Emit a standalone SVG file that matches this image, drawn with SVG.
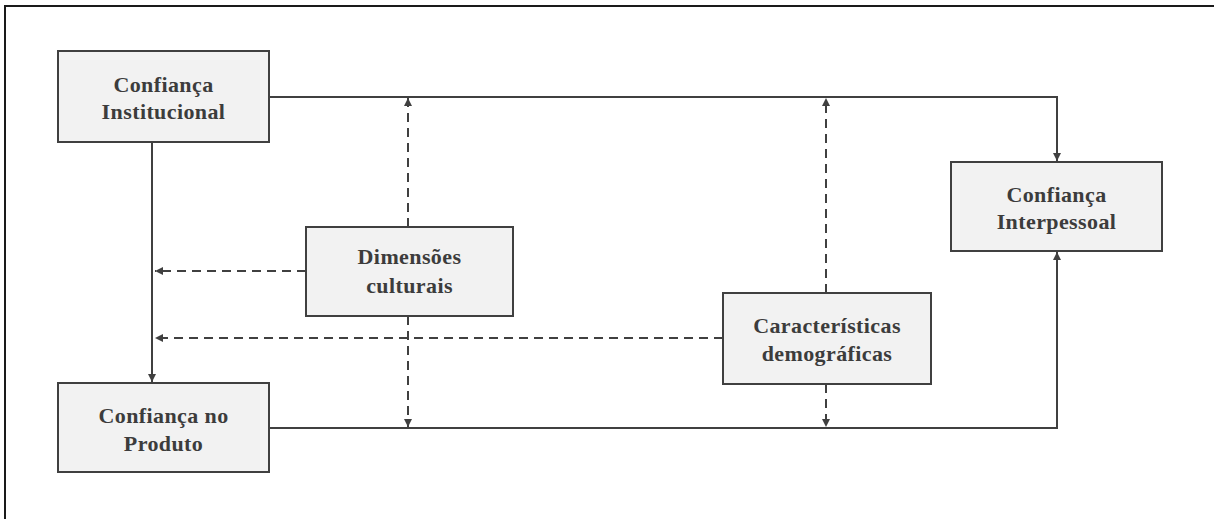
<svg xmlns="http://www.w3.org/2000/svg" width="1214" height="519" viewBox="0 0 1214 519">
  <style>
    .box { fill: #f2f2f2; stroke: #404040; stroke-width: 2; }
    .lbl { font-family: "Liberation Serif", "Times New Roman", serif; font-weight: bold; font-size: 22px; fill: #3c3c3c; text-anchor: middle; letter-spacing: 0.4px; }
    .solid { fill: none; stroke: #404040; stroke-width: 2; }
    .dash { fill: none; stroke: #404040; stroke-width: 2; stroke-dasharray: 9 6; }
  </style>
  <defs>
    <marker id="arrow" viewBox="0 0 10 10" refX="10" refY="5" markerWidth="8" markerHeight="8" markerUnits="userSpaceOnUse" orient="auto">
      <path d="M0,0 L10,5 L0,10 Z" fill="#404040"/>
    </marker>
  </defs>

  <rect width="1214" height="519" fill="#ffffff"/>
  <!-- outer frame (right and bottom sides fall outside the canvas) -->
  <rect x="5" y="6" width="1220" height="530" fill="none" stroke="#1a1a1a" stroke-width="2"/>

  <g id="connectors">
    <!-- Institucional -> Interpessoal -->
    <path class="solid" d="M269,97 H1057 V161" marker-end="url(#arrow)"/>
    <!-- Institucional -> Produto -->
    <path class="solid" d="M152,142 V382" marker-end="url(#arrow)"/>
    <!-- Produto -> Interpessoal -->
    <path class="solid" d="M269,428 H1057 V252" marker-end="url(#arrow)"/>
    <!-- Dimensões culturais moderations -->
    <path class="dash" d="M408,227 V98" marker-end="url(#arrow)"/>
    <path class="dash" d="M408,316 V427" marker-end="url(#arrow)"/>
    <path class="dash" d="M306,271 H155" marker-end="url(#arrow)"/>
    <!-- Características demográficas moderations -->
    <path class="dash" d="M826,293 V98" marker-end="url(#arrow)"/>
    <path class="dash" d="M826,384 V427" marker-end="url(#arrow)"/>
    <path class="dash" d="M723,338 H155" marker-end="url(#arrow)"/>
  </g>

  <g id="confianca-institucional">
    <rect class="box" x="58" y="51" width="211" height="91"/>
    <text class="lbl" x="163.5" y="92">Confiança</text>
    <text class="lbl" x="163.5" y="119">Institucional</text>
  </g>

  <g id="confianca-produto">
    <rect class="box" x="58" y="383" width="211" height="89"/>
    <text class="lbl" x="163.5" y="423">Confiança no</text>
    <text class="lbl" x="163.5" y="451">Produto</text>
  </g>

  <g id="dimensoes-culturais">
    <rect class="box" x="306" y="227" width="207" height="89"/>
    <text class="lbl" x="409.5" y="264">Dimensões</text>
    <text class="lbl" x="409.5" y="293">culturais</text>
  </g>

  <g id="caracteristicas-demograficas">
    <rect class="box" x="723" y="293" width="208" height="91"/>
    <text class="lbl" x="827" y="333">Características</text>
    <text class="lbl" x="827" y="361">demográficas</text>
  </g>

  <g id="confianca-interpessoal">
    <rect class="box" x="951" y="162" width="211" height="89"/>
    <text class="lbl" x="1056.5" y="202">Confiança</text>
    <text class="lbl" x="1056.5" y="229">Interpessoal</text>
  </g>
</svg>
